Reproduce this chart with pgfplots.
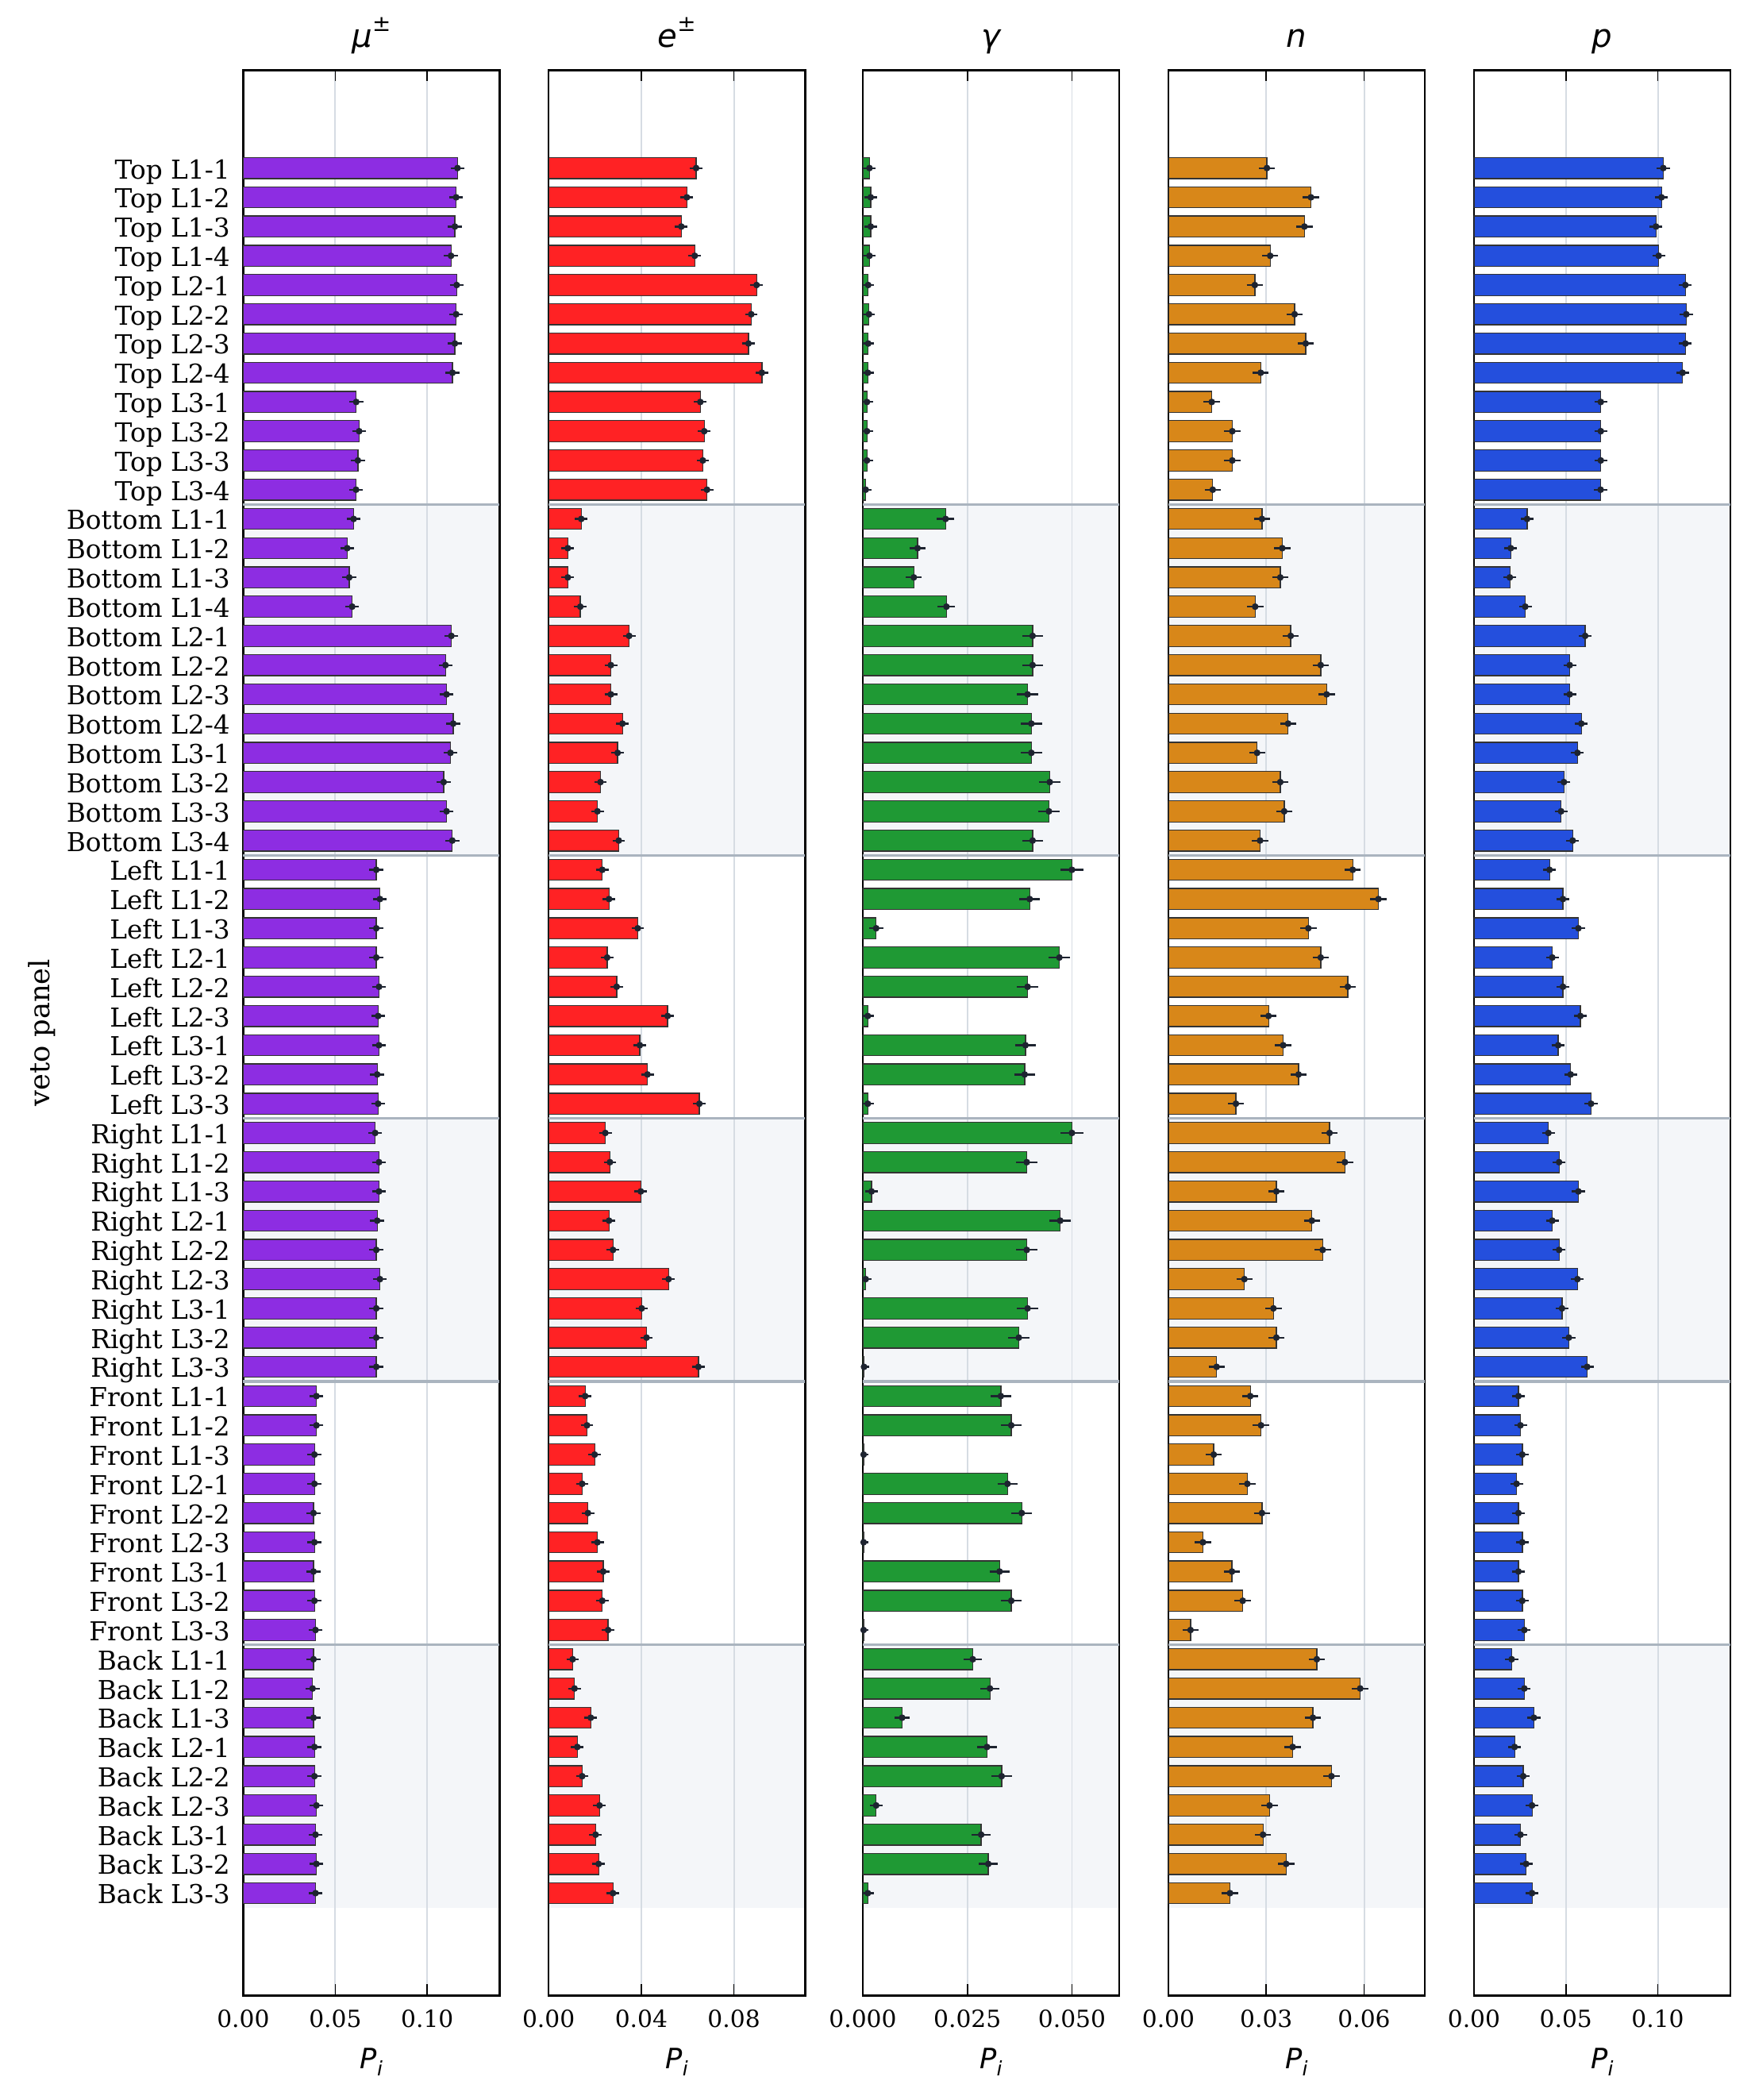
\documentclass[border=0pt]{standalone}
\usepackage{fontspec}
\setmainfont{DejaVu Serif}
\newfontfamily\dvs{DejaVu Sans}
\usepackage{pgfplots}
\usepackage{pgfplotstable}
\pgfplotsset{compat=1.18}

\definecolor{cmu}{RGB}{141,45,226}
\definecolor{ce}{RGB}{255,34,36}
\definecolor{cg}{RGB}{31,153,52}
\definecolor{cn}{RGB}{216,135,25}
\definecolor{cp}{RGB}{36,79,221}
\definecolor{bandc}{RGB}{244,246,249}
\definecolor{sepc}{RGB}{170,180,191}
\definecolor{gridc}{RGB}{214,220,227}
\definecolor{errc}{RGB}{30,36,48}

\pgfplotstableread{
idx mu e g n p ge
0 0.1164 0.0637 0.0016 0.0302 0.1030 0.0005
1 0.1157 0.0597 0.0019 0.0437 0.1020 0.0005
2 0.1150 0.0573 0.0019 0.0417 0.0990 0.0005
3 0.1129 0.0631 0.0016 0.0312 0.1005 0.0005
4 0.1160 0.0898 0.0013 0.0265 0.1150 0.0004
5 0.1157 0.0875 0.0015 0.0387 0.1155 0.0004
6 0.1150 0.0863 0.0013 0.0421 0.1150 0.0004
7 0.1137 0.0921 0.0012 0.0283 0.1135 0.0004
8 0.0614 0.0655 0.0010 0.0133 0.0690 0.0004
9 0.0630 0.0672 0.0010 0.0196 0.0690 0.0004
10 0.0623 0.0666 0.0010 0.0196 0.0690 0.0004
11 0.0613 0.0684 0.0007 0.0136 0.0689 0.0003
12 0.0600 0.0141 0.0198 0.0287 0.0289 0.0011
13 0.0565 0.0083 0.0131 0.0349 0.0200 0.0009
14 0.0576 0.0083 0.0122 0.0343 0.0195 0.0009
15 0.0592 0.0137 0.0200 0.0266 0.0279 0.0011
16 0.1131 0.0348 0.0406 0.0375 0.0605 0.0015
17 0.1099 0.0269 0.0406 0.0467 0.0521 0.0015
18 0.1105 0.0269 0.0394 0.0485 0.0521 0.0015
19 0.1141 0.0319 0.0403 0.0367 0.0584 0.0015
20 0.1126 0.0298 0.0403 0.0272 0.0563 0.0015
21 0.1089 0.0224 0.0447 0.0343 0.0489 0.0016
22 0.1105 0.0211 0.0445 0.0355 0.0474 0.0016
23 0.1136 0.0303 0.0406 0.0281 0.0537 0.0015
24 0.0723 0.0232 0.0500 0.0565 0.0411 0.0017
25 0.0743 0.0261 0.0399 0.0644 0.0484 0.0015
26 0.0723 0.0385 0.0032 0.0429 0.0568 0.0007
27 0.0723 0.0253 0.0470 0.0467 0.0426 0.0016
28 0.0738 0.0294 0.0394 0.0550 0.0484 0.0015
29 0.0733 0.0514 0.0012 0.0307 0.0579 0.0004
30 0.0738 0.0394 0.0389 0.0352 0.0458 0.0015
31 0.0728 0.0427 0.0387 0.0399 0.0526 0.0015
32 0.0733 0.0651 0.0012 0.0207 0.0637 0.0004
33 0.0717 0.0245 0.0500 0.0494 0.0405 0.0017
34 0.0738 0.0265 0.0392 0.0541 0.0463 0.0015
35 0.0738 0.0398 0.0021 0.0331 0.0568 0.0005
36 0.0728 0.0261 0.0472 0.0440 0.0426 0.0016
37 0.0723 0.0278 0.0392 0.0473 0.0463 0.0015
38 0.0743 0.0518 0.0007 0.0233 0.0563 0.0003
39 0.0723 0.0402 0.0394 0.0322 0.0479 0.0015
40 0.0723 0.0423 0.0373 0.0331 0.0516 0.0015
41 0.0723 0.0647 0.0003 0.0148 0.0616 0.0002
42 0.0398 0.0158 0.0330 0.0251 0.0242 0.0014
43 0.0398 0.0166 0.0355 0.0284 0.0253 0.0014
44 0.0387 0.0199 0.0002 0.0139 0.0263 0.0001
45 0.0387 0.0145 0.0346 0.0242 0.0232 0.0014
46 0.0382 0.0170 0.0380 0.0287 0.0242 0.0015
47 0.0387 0.0211 0.0002 0.0106 0.0263 0.0001
48 0.0382 0.0236 0.0327 0.0195 0.0242 0.0014
49 0.0387 0.0232 0.0355 0.0228 0.0263 0.0014
50 0.0393 0.0257 0.0002 0.0068 0.0274 0.0001
51 0.0382 0.0104 0.0263 0.0455 0.0205 0.0012
52 0.0377 0.0112 0.0304 0.0588 0.0274 0.0013
53 0.0382 0.0182 0.0094 0.0443 0.0326 0.0008
54 0.0387 0.0124 0.0297 0.0381 0.0221 0.0013
55 0.0387 0.0145 0.0332 0.0500 0.0268 0.0014
56 0.0398 0.0220 0.0032 0.0310 0.0316 0.0005
57 0.0393 0.0203 0.0283 0.0290 0.0253 0.0013
58 0.0398 0.0216 0.0300 0.0361 0.0284 0.0013
59 0.0393 0.0278 0.0012 0.0189 0.0316 0.0004
}\data

\pgfplotsset{
  vetobase/.style={
    set layers,
    scale only axis, width=116.3pt, height=873pt,
    anchor=south west,
    y dir=reverse, ymin=-3.35, ymax=62.5,
    ytick={0,...,59}, yticklabels={},
    ytick style={draw=none},
    xmin=0, scaled x ticks=false,
    tick align=inside, xtick pos=both, xticklabel pos=lower,
    major tick length=5pt,
    xtick style={black, line width=0.6pt},
    xmajorgrids, grid style={gridc, line width=0.7pt},
    axis line style={line width=0.95pt},
    xticklabel style={font=\fontsize{10.7}{12}\selectfont, anchor=base, yshift=-14.3pt},
    title style={font=\dvs\itshape\fontsize{14.5}{16}\selectfont, at={(0.5,1)}, anchor=base, yshift=4.4pt},
    xlabel style={font=\fontsize{12.7}{14}\selectfont, at={(0.5,0)}, anchor=base, yshift=-33pt},
    xlabel={{\dvs\itshape P\raisebox{-0.28em}{\fontsize{9}{10}\selectfont i}}},
  },
  vbarcore/.style={xbar, bar width=0.72, draw=black!80, line width=0.45pt, fill=#1,
    mark=*, mark size=1.35pt, mark options={fill=errc, draw=errc, line width=0.3pt, solid}},
  vbar/.style 2 args={vbarcore=#1,
    error bars/.cd, x dir=both, x fixed=#2,
    error bar style={line width=0.85pt, errc, solid},
    error mark options={line width=0.85pt, errc, mark size=1.9pt, solid}},
}

\newcommand{\bands}[1]{%
  \begin{pgfonlayer}{axis background}
    \fill[bandc] (axis cs:0,11.5) rectangle (axis cs:#1,23.5);
    \fill[bandc] (axis cs:0,32.5) rectangle (axis cs:#1,41.5);
    \fill[bandc] (axis cs:0,50.5) rectangle (axis cs:#1,59.5);
  \end{pgfonlayer}
  \draw[sepc, line width=1.1pt] (axis cs:0,11.5) -- (axis cs:#1,11.5);
  \draw[sepc, line width=1.1pt] (axis cs:0,23.5) -- (axis cs:#1,23.5);
  \draw[sepc, line width=1.1pt] (axis cs:0,32.5) -- (axis cs:#1,32.5);
  \draw[sepc, line width=1.1pt] (axis cs:0,41.5) -- (axis cs:#1,41.5);
  \draw[sepc, line width=1.1pt] (axis cs:0,50.5) -- (axis cs:#1,50.5);
}

\begin{document}
\begin{tikzpicture}

% mu
\begin{axis}[vetobase, at={(110.3pt,-904.8pt)}, xmax=0.1393, clip=false,
  xtick={0,0.05,0.10}, xticklabels={0.00,0.05,0.10},
  title={μ\raisebox{0.5em}{\fontsize{10}{10}\selectfont\upshape ±}},
  yticklabels={Top L1-1,Top L1-2,Top L1-3,Top L1-4,Top L2-1,Top L2-2,Top L2-3,Top L2-4,Top L3-1,Top L3-2,Top L3-3,Top L3-4,
    Bottom L1-1,Bottom L1-2,Bottom L1-3,Bottom L1-4,Bottom L2-1,Bottom L2-2,Bottom L2-3,Bottom L2-4,Bottom L3-1,Bottom L3-2,Bottom L3-3,Bottom L3-4,
    Left L1-1,Left L1-2,Left L1-3,Left L2-1,Left L2-2,Left L2-3,Left L3-1,Left L3-2,Left L3-3,
    Right L1-1,Right L1-2,Right L1-3,Right L2-1,Right L2-2,Right L2-3,Right L3-1,Right L3-2,Right L3-3,
    Front L1-1,Front L1-2,Front L1-3,Front L2-1,Front L2-2,Front L2-3,Front L3-1,Front L3-2,Front L3-3,
    Back L1-1,Back L1-2,Back L1-3,Back L2-1,Back L2-2,Back L2-3,Back L3-1,Back L3-2,Back L3-3},
  yticklabel style={font=\fontsize{11.8}{13}\selectfont, anchor=base east, inner sep=0pt, xshift=-5.8pt, yshift=-4.8pt},
]
\bands{0.1393}
\addplot[vbar={cmu}{0.0015}] table[x=mu, y=idx] {\data};
\path (rel axis cs:0,0.5) ++(-91.3pt,0pt) node[rotate=90, anchor=center, font=\fontsize{12.7}{14}\selectfont] {veto panel};
\end{axis}

% e
\begin{axis}[vetobase, at={(248.8pt,-904.8pt)}, xmax=0.1107,
  xtick={0,0.04,0.08}, xticklabels={0.00,0.04,0.08},
  title={e\raisebox{0.5em}{\fontsize{10}{10}\selectfont\upshape ±}},
]
\bands{0.1107}
\addplot[vbar={ce}{0.0009}] table[x=e, y=idx] {\data};
\end{axis}

% gamma
\begin{axis}[vetobase, at={(391.3pt,-904.8pt)}, xmax=0.0613,
  xtick={0,0.025,0.05}, xticklabels={0.000,0.025,0.050},
  title={γ},
]
\bands{0.0613}
\addplot[vbarcore=cg,
  error bars/.cd, x dir=both, x explicit,
  error bar style={line width=0.85pt, errc, solid},
  error mark options={line width=0.85pt, errc, mark size=1.9pt, solid}]
  table[x=g, y=idx, x error=ge] {\data};
\end{axis}

% n
\begin{axis}[vetobase, at={(529.9pt,-904.8pt)}, xmax=0.0786,
  xtick={0,0.03,0.06}, xticklabels={0.00,0.03,0.06},
  title={n},
]
\bands{0.0786}
\addplot[vbar={cn}{0.0012}] table[x=n, y=idx] {\data};
\end{axis}

% p
\begin{axis}[vetobase, at={(668.5pt,-904.8pt)}, xmax=0.1395,
  xtick={0,0.05,0.10}, xticklabels={0.00,0.05,0.10},
  title={p},
]
\bands{0.1395}
\addplot[vbar={cp}{0.0012}] table[x=p, y=idx] {\data};
\end{axis}
\path (0pt,0pt) rectangle (795.6pt,-952.2pt);
\end{tikzpicture}
\end{document}
